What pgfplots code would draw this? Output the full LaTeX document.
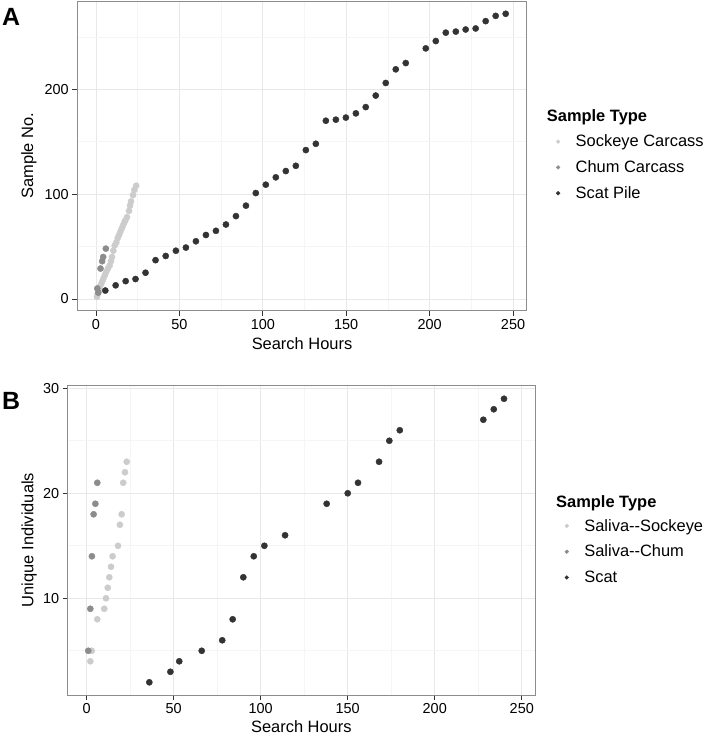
\documentclass[border=0pt]{standalone}
\usepackage{pgfplots}
\pgfplotsset{compat=1.18}
\usepackage{fontspec}
\setmainfont{Liberation Sans}

\definecolor{sock}{gray}{0.80}
\definecolor{chum}{gray}{0.55}
\definecolor{scat}{gray}{0.20}
\newcommand{\ticksize}{\fontsize{14.5}{17}\selectfont}
\newcommand{\labsize}{\fontsize{16.5}{19}\selectfont}

\pgfplotsset{
  gg/.style={
    scale only axis,
    axis line style={black!45, line width=0.8pt},
    tick align=outside,
    tick pos=left,
    major tick length=5bp,
    minor tick length=0pt,
    tick style={black!80, line width=0.9pt},
    grid=both,
    major grid style={black!9, line width=0.8pt},
    minor grid style={black!4, line width=0.6pt},
    ticklabel style={font=\ticksize},
    label style={font=\labsize},
    /pgf/number format/assume math mode=true,
    xtick={0,50,...,250},
    minor xtick={25,75,...,225},
    legend cell align=left,
    legend style={draw=none, fill=none, inner sep=0pt, anchor=north west,
      column sep=13.5bp, row sep=8.3bp, font=\labsize,
      cells={anchor=west, inner sep=0pt, text height=12bp, text depth=4bp}},
    legend image code/.code={\fill[#1] (0bp,0bp) circle (1.9bp);},
  },
  pts/.style={only marks, mark=*, mark size=3.1bp, color=#1},
}

\begin{document}
\begin{tikzpicture}
\useasboundingbox (0,0) rectangle (703bp,735bp);

% panel A
\begin{axis}[gg,
  at={(77.3bp,424.3bp)}, anchor=south west,
  width=449.4bp, height=309.7bp,
  xmin=-11.2, xmax=258.2, ymin=-11.2, ymax=284.2,
  ytick={0,100,200}, minor ytick={50,150,250},
  xlabel={Search Hours}, ylabel={Sample No.},
  xlabel style={at={(axis description cs:0.5,-0.1269)}, anchor=base},
  ylabel style={at={(axis description cs:-0.1075,0.5)}, anchor=center},
  legend style={at={(axis description cs:1.0648,0.5747)}},
]
\addplot[pts=sock] coordinates {
(0.6,2)(1.0,5)(1.6,8)(2.2,11)(3.0,14)(3.8,17)(4.6,20)(5.4,23)(6.2,26)(7.2,29)
(8.2,32)(9.0,36)(9.6,40)(10.4,46)(11.2,51)(12.2,54)(13.0,58)(13.8,61)(14.6,64)(15.4,67)
(16.2,70)(17.0,73)(17.6,75)(18.6,78)(19.8,84)(20.4,89)(21.0,93)(22.2,99)(23.0,104)(24.1,108)
};
\addplot[pts=chum] coordinates {
(0.8,10)(1.4,6)(2.7,29)(3.7,36)(4.3,40)(5.9,48)
};
\addplot[pts=scat] coordinates {
(5.6,8)(11.8,13)(17.8,17)(23.7,19)(29.7,25)(35.7,37)(41.8,41)(47.9,46)(53.9,49)(59.9,55)
(65.9,61)(71.9,65)(77.9,71)(83.9,79)(89.9,89)(95.8,101)(101.8,109)(107.8,116)(113.8,122)(119.8,127)
(125.8,142)(131.8,148)(137.8,170)(143.8,171)(149.8,173)(155.8,177)(161.7,183)(167.7,194)(173.7,206)(179.7,219)
(185.7,225)(197.7,239)(203.7,246)(209.7,254)(215.7,255)(221.6,257)(227.6,258)(233.6,265)(239.6,270)(245.6,272)
};
\legend{Sockeye Carcass, Chum Carcass, Scat Pile}
\end{axis}

% panel B
\begin{axis}[gg,
  at={(67.7bp,40bp)}, anchor=south west,
  width=467.3bp, height=310bp,
  xmin=-10.9, xmax=257.6, ymin=0.79, ymax=30.31,
  ytick={10,20,30}, minor ytick={5,15,25},
  xlabel={Search Hours}, ylabel={Unique Individuals},
  xlabel style={at={(axis description cs:0.5,-0.1210)}, anchor=base},
  ylabel style={at={(axis description cs:-0.0828,0.5)}, anchor=center},
  legend style={at={(axis description cs:1.0631,0.5742)}},
]
\addplot[pts=sock] coordinates {
(2.1,4)(2.9,5)(6.1,8)(10.1,9)(11.1,10)(12.1,11)(13.0,12)(14.0,13)(14.9,14)(18.0,15)
(19.1,17)(20.1,18)(21.0,21)(22.0,22)(23.0,23)
};
\addplot[pts=chum] coordinates {
(0.9,5)(2.1,9)(3.0,14)(4.0,18)(5.0,19)(6.1,21)
};
\addplot[pts=scat] coordinates {
(36.0,2)(48.1,3)(53.2,4)(66.1,5)(77.9,6)(83.9,8)(90.0,12)(96.0,14)(102.1,15)(114.0,16)
(137.9,19)(150.0,20)(155.9,21)(168.0,23)(173.9,25)(179.9,26)(227.9,27)(233.9,28)(239.8,29)
};
\legend{Saliva-{}-Sockeye, Saliva-{}-Chum, Scat}
\end{axis}

\node[anchor=base west, inner sep=0pt, font=\labsize\bfseries] at (546.7bp,613.2bp) {Sample Type};
\node[anchor=base west, inner sep=0pt, font=\labsize\bfseries] at (556bp,227.5bp) {Sample Type};
\node[anchor=base west, inner sep=0pt, font=\fontsize{25}{28}\selectfont\bfseries] at (2bp,709bp) {A};
\node[anchor=base west, inner sep=0pt, font=\fontsize{25}{28}\selectfont\bfseries] at (2bp,325bp) {B};
\end{tikzpicture}
\end{document}
